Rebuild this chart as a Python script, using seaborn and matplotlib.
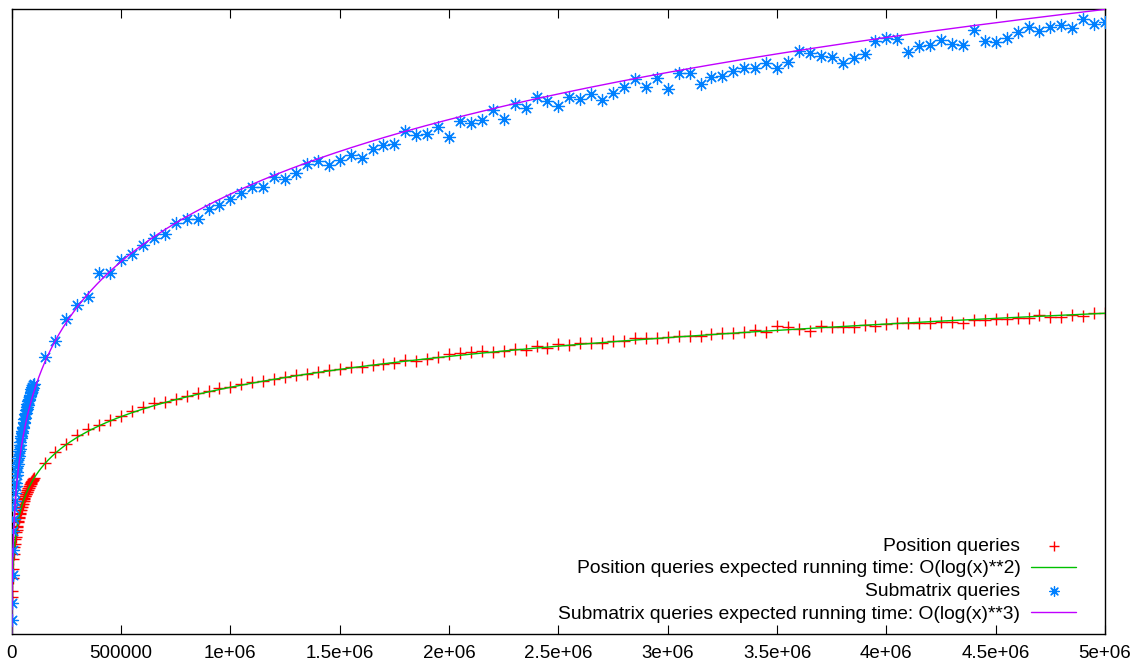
import numpy as np
import pandas as pd
import matplotlib
matplotlib.use("Agg")
import matplotlib.pyplot as plt
import seaborn as sns

# ---------------- data (y in arbitrary time units; axis has no y labels) ----------------
x_dense = [1000, 2000] + list(range(4000, 100001, 2000))
pos_dense = [74, 80, 93, 102, 112, 117, 124, 127, 132, 134,
             139, 141, 144, 145, 149, 150, 153, 154, 157, 158,
             161, 161, 164, 164, 167, 167, 170, 170, 172, 173,
             175, 175, 177, 177, 179, 179, 181, 181, 183, 183,
             185, 185, 187, 187, 188, 189, 190, 190, 192, 191, 193]
sub_dense = [51, 68, 96, 121, 140, 152, 163, 170, 178, 185,
             188, 196, 199, 205, 207, 213, 215, 220, 222, 226,
             229, 233, 235, 238, 240, 243, 244, 248, 249, 252,
             253, 257, 258, 261, 262, 264, 267, 266, 270, 272,
             271, 275, 276, 279, 278, 282, 281, 284, 286, 283, 287]

x_sparse = list(range(150000, 5000001, 50000))
pos_sparse = [208.3, 219.3, 226.7, 236, 241.7, 246, 251, 255, 260.3, 264.3,
              267.7, 269.3, 272, 275, 278.3, 280, 282.7, 283.7, 286.7, 288.7,
              290.3, 292, 294.3, 296, 297, 299.3, 301, 301.7, 303.7, 303.7,
              306, 307, 307.7, 311, 310.3, 312, 313.7, 316.7, 317.7, 318.7,
              320.3, 319.3, 320.3, 321.7, 321, 325, 323.3, 326.7, 326, 327.7,
              328.3, 328.3, 330, 330.3, 332.7, 333.3, 332.7, 333.7, 335, 335,
              335.3, 337, 338.3, 338.3, 338.7, 341, 339.3, 345, 344.3, 341.7,
              340.5, 345.3, 344.3, 344.3, 344.3, 346, 345, 346.7, 347.7, 347.7,
              348.3, 348.3, 349.3, 349.3, 348.3, 351, 351, 352, 352, 352.7,
              352.7, 356, 354.3, 354.3, 356, 355, 357.7, 357.7]
sub_sparse = [314.3, 330.3, 351.7, 366, 374.3, 397.7, 397.7, 411, 416.7, 426,
              432.7, 437, 448.3, 451.7, 451.7, 461.7, 466, 471.7, 477.7, 483.7,
              483.7, 493.7, 492, 498.3, 507, 510, 506.5,
              511, 516, 513.3, 521.7, 526, 527, 540, 536, 537, 544.3,
              534.3, 550, 547.7, 551, 561, 552, 567, 563.3, 573.7, 570.3,
              565.3, 574.3, 572, 577, 571, 578.3,
              583.7, 591.7, 584.3, 593.3, 581.7, 598.3, 598.3, 586.7, 594.3, 595.3,
              600, 603.3, 603.3, 608.3, 602.7, 609.3, 620, 618.3, 615, 614.3,
              608.3, 612.7, 617,
              630.3, 632.7, 631.7, 619.3, 625.3, 626, 631, 627, 626, 641,
              630, 629.3, 633.3, 638.7, 644.3, 640.3, 644.3, 646, 642.7, 652,
              646.7, 649.3]

# fitted model parameters: a*log(x)**k + c
fit_pos = {"a": 1.5725, "k": 2, "c": -16.4}
fit_sub = {"a": 0.1788, "k": 3, "c": 5.4}

xtick_values = [0, 500000, 1000000, 1500000, 2000000, 2500000, 3000000,
                3500000, 4000000, 4500000, 5000000]
xtick_labels = ["0", "500000", "1e+06", "1.5e+06", "2e+06", "2.5e+06", "3e+06",
                "3.5e+06", "4e+06", "4.5e+06", "5e+06"]

labels = ["Position queries",
          "Position queries expected running time: O(log(x)**2)",
          "Submatrix queries",
          "Submatrix queries expected running time: O(log(x)**3)"]

# ---------------- frames ----------------
pos_df = pd.DataFrame({"x": x_dense + x_sparse, "y": pos_dense + pos_sparse})
sub_df = pd.DataFrame({"x": x_dense + x_sparse, "y": sub_dense + sub_sparse})
xs = np.concatenate([np.linspace(60, 100000, 3000), np.linspace(100000, 5e6, 800)])
pos_fit_df = pd.DataFrame({"x": xs, "y": fit_pos["a"] * np.log(xs) ** fit_pos["k"] + fit_pos["c"]})
sub_fit_df = pd.DataFrame({"x": xs, "y": fit_sub["a"] * np.log(xs) ** fit_sub["k"] + fit_sub["c"]})

# ---------------- plot ----------------
sns.set_theme(style="white")
plt.rcParams["font.family"] = ["Liberation Sans", "DejaVu Sans"]

fig = plt.figure(figsize=(11.37, 6.64), dpi=100)
ax = fig.add_axes([0.0103, 0.0459, 0.9616, 0.9398])

RED = "#ff0000"
GREEN = "#00c000"
BLUE = "#0080ff"
MAGENTA = "#c000ff"

sns.scatterplot(data=pos_df, x="x", y="y", ax=ax, marker="+", s=80,
                color=RED, linewidth=1.0, label=labels[0], zorder=2)
sns.lineplot(data=pos_fit_df, x="x", y="y", ax=ax, color=GREEN, linewidth=1.0,
             label=labels[1], zorder=3, sort=False)
sns.scatterplot(data=sub_df, x="x", y="y", ax=ax, marker=(8, 2, 0), s=75,
                color=BLUE, linewidth=0.9, label=labels[2], zorder=4)
sns.lineplot(data=sub_fit_df, x="x", y="y", ax=ax, color=MAGENTA, linewidth=1.0,
             label=labels[3], zorder=5, sort=False)

ax.set_xlim(0, 5e6)
ax.set_ylim(37.5, 661.5)
ax.set_xticks(xtick_values)
ax.set_xticklabels(xtick_labels)
ax.set_yticks([])
ax.set_xlabel("")
ax.set_ylabel("")
ax.tick_params(axis="x", which="both", direction="in", length=6.5, width=0.8,
               color="black", top=True, bottom=True, labelsize=13.5, pad=8,
               labelcolor="black")
for sp in ax.spines.values():
    sp.set_visible(True)
    sp.set_color("black")
    sp.set_linewidth(1.0)

leg = ax.legend(loc="lower right", bbox_to_anchor=(0.9735, 0.017), frameon=False,
                markerfirst=False, fontsize=13.9, handlelength=2.33,
                handletextpad=0.55, labelspacing=0.27, borderpad=0,
                borderaxespad=0, scatterpoints=1, markerscale=0.8)
for t in leg.get_texts():
    t.set_color("black")

fig.savefig("out.png", dpi=100)
